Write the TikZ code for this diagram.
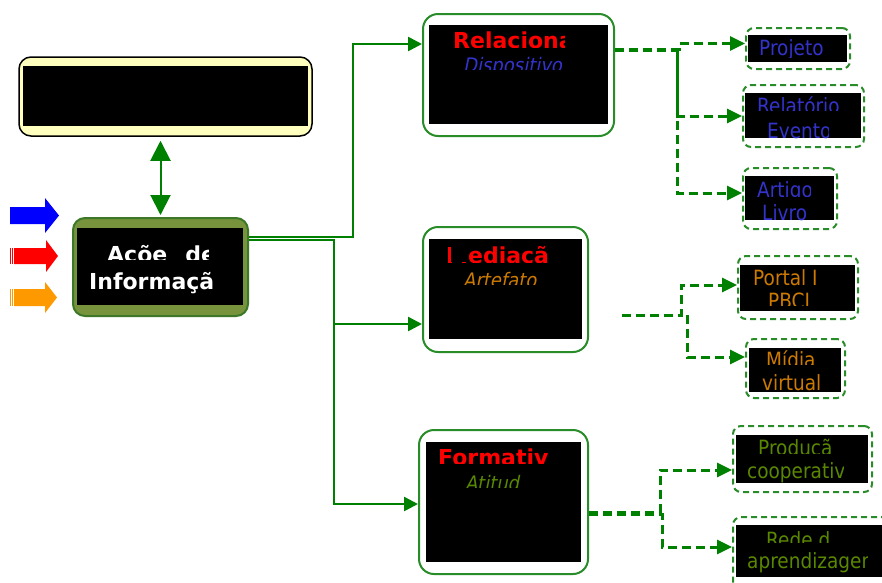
\documentclass[tikz,border=0pt]{standalone}
\usepackage{fontspec}
\setmainfont{DejaVu Sans}
\newfontfamily\nrw[FakeStretch=0.88]{DejaVu Sans}
\newfontfamily\nrwi[FakeStretch=0.9,FakeSlant=0.2]{DejaVu Sans}
\usetikzlibrary{arrows.meta,calc}
\definecolor{lgreen}{RGB}{0,128,0}
\definecolor{fgreen}{RGB}{40,140,40}
\definecolor{olivefill}{RGB}{119,147,60}
\definecolor{oliveline}{RGB}{60,120,40}
\definecolor{lyellow}{RGB}{255,255,190}
\definecolor{tblue}{RGB}{51,51,204}
\definecolor{torange}{RGB}{204,122,0}
\definecolor{tolive}{RGB}{90,135,0}
\definecolor{aorange}{RGB}{255,153,0}
\newcommand\fsz[1]{\fontsize{#1}{#1}\selectfont}
\begin{document}
\begin{tikzpicture}[x=1pt,y=-1pt,
 frame/.style={draw=fgreen,line width=2pt,rounded corners=15pt,fill=white,inner sep=0pt},
 dframe/.style={draw=fgreen,line width=2pt,rounded corners=8pt,dash pattern=on 6pt off 4pt,fill=white,inner sep=0pt},
 txt/.style={inner sep=0pt,anchor=base west},
 ttl/.style={txt,text=red,font=\bfseries\fsz{22}},
 sm/.style={txt,font=\nrw\fsz{21}},
 it/.style={txt,font=\nrwi\fsz{20}},
 conn/.style={draw=lgreen,line width=2.5pt,-{Triangle[length=14pt,width=14pt]}},
 dconn/.style={draw=lgreen,line width=3pt,dash pattern=on 9pt off 5pt,-{Triangle[length=15pt,width=14pt]}},
]
\clip (0,0) rectangle (882,582);
\fill[white] (0,0) rectangle (882,582);

% top-left yellow box
\node[draw=black,line width=1.5pt,rounded corners=12pt,fill=lyellow,inner sep=0pt,minimum width=293pt,minimum height=79pt] (yel) at (165.5,96.5) {};
\fill (23,66) rectangle (308,126);

% Acoes box
\node[draw=oliveline,line width=2pt,rounded corners=12pt,fill=olivefill,inner sep=0pt,minimum width=175pt,minimum height=98pt] (acao) at (160.5,267) {};
\fill (77,228) rectangle (243,305);
\begin{scope}\clip (77,228) rectangle (208,259);
\node[txt,text=white,font=\bfseries\fsz{22}] (a1) at (107,262) {Acõe\hspace{18pt}de};
\end{scope}
\begin{scope}\clip (77,228) rectangle (218,305);
\node[txt,text=white,font=\bfseries\fsz{22}] (a2) at (89,289) {Informaçã};
\end{scope}

% coloured arrows
\fill[blue] (10,207) -- (45,207) -- (45,198) -- (59,215.5) -- (45,233) -- (45,224) -- (10,224) -- cycle;
\fill[red] (14,248) -- (46,248) -- (46,240) -- (58,256) -- (46,272) -- (46,264) -- (14,264) -- cycle;
\fill[red] (10,248) rectangle (11,264);
\fill[red] (12,248) rectangle (13,264);
\fill[aorange] (14,289) -- (45,289) -- (45,282) -- (57,297.5) -- (45,313) -- (45,306) -- (14,306) -- cycle;
\fill[aorange] (10,289) rectangle (11,306);
\fill[aorange] (12,289) rectangle (13,306);

% Relacional
\node[frame,minimum width=191pt,minimum height=122pt] (rel) at (518.5,75) {};
\fill (429,25) rectangle (608,124);
\begin{scope}\clip (429,25) rectangle (564,47);
\node[ttl] (r1) at (453,48) {Relaciona};
\end{scope}
\begin{scope}\clip (429,47) rectangle (564,69);
\node[it,text=tblue] (r2) at (463,72.5) {Dispositivo};
\end{scope}

% Mediacao
\node[frame,minimum width=165pt,minimum height=125pt] (med) at (505.5,289.5) {};
\fill (429,239) rectangle (582,339);
\begin{scope}\clip (429,239) rectangle (552,262);
\node[ttl] (m1) at (446,263) {Mediaçã};
\fill (451,240) rectangle (467,262);
\end{scope}
\begin{scope}\clip (429,262) rectangle (537,284);
\node[it,text=torange] (m2) at (463,287.5) {Artefato};
\end{scope}

% Formativ
\node[frame,minimum width=169pt,minimum height=144pt] (form) at (503.5,502) {};
\fill (426,442) rectangle (581,562);
\begin{scope}\clip (426,442) rectangle (551,463);
\node[ttl] (f1) at (438,465) {Formativ};
\end{scope}
\begin{scope}\clip (426,463) rectangle (521,487);
\node[it,text=tolive] (f2) at (465,490.5) {Atitud};
\end{scope}

% small boxes
\node[dframe,minimum width=104pt,minimum height=41pt] (proj) at (798,48.5) {};
\fill (748,35) rectangle (847,62);
\begin{scope}\clip (748,35) rectangle (823,57);
\node[sm,text=tblue] (p1) at (759,55.5) {Projeto};
\end{scope}

\node[dframe,minimum width=121pt,minimum height=62pt] (relat) at (803.5,116) {};
\fill (745,93) rectangle (861,138);
\begin{scope}\clip (745,93) rectangle (838,110);
\node[sm,text=tblue] (e1) at (757,113) {Relatório};
\end{scope}
\begin{scope}\clip (745,110) rectangle (828,138);
\node[sm,text=tblue] (e2) at (767,138) {Evento};
\end{scope}

\node[dframe,minimum width=94pt,minimum height=61pt] (art) at (790,198.5) {};
\fill (745,176) rectangle (834,220);
\begin{scope}\clip (745,176) rectangle (810,196);
\node[sm,text=tblue] (g1) at (757,197) {Artigo};
\end{scope}
\begin{scope}\clip (745,196) rectangle (806,220);
\node[sm,text=tblue] (g2) at (762,220) {Livro};
\end{scope}

\node[dframe,minimum width=120pt,minimum height=63pt] (portal) at (798,287.5) {};
\fill (740,265) rectangle (855,311);
\begin{scope}\clip (740,265) rectangle (819,288);
\node[sm,text=torange] (o1) at (753,285) {Portal I};
\end{scope}
\begin{scope}\clip (740,288) rectangle (813,305);
\node[sm,text=torange] (o2) at (768,308) {PBCI};
\end{scope}

\node[dframe,minimum width=99pt,minimum height=59pt] (midia) at (795.5,368.5) {};
\fill (749,348) rectangle (841,392);
\begin{scope}\clip (749,348) rectangle (813,364);
\node[sm,text=torange] (v1) at (766,367) {Mídia};
\end{scope}
\begin{scope}\clip (749,364) rectangle (819,392);
\node[sm,text=torange] (v2) at (762,390) {virtual};
\end{scope}

\node[dframe,minimum width=139pt,minimum height=66pt] (prod) at (802.5,459) {};
\fill (736,435) rectangle (868,483);
\begin{scope}\clip (736,435) rectangle (838,453);
\node[sm,text=tolive] (c1) at (758,455) {Produçã};
\end{scope}
\begin{scope}\clip (736,453) rectangle (843,483);
\node[sm,text=tolive] (c2) at (747,478) {cooperativ};
\end{scope}

\node[dframe,minimum width=172pt,minimum height=83pt] (rede) at (819,558.5) {};
\fill (736,525) rectangle (882,577);
\begin{scope}\clip (736,525) rectangle (840,542);
\node[sm,text=tolive] (d1) at (766,547) {Rede d};
\end{scope}
\begin{scope}\clip (736,542) rectangle (867,577);
\node[sm,text=tolive] (d2) at (747,568) {aprendizagem};
\end{scope}

% connectors
\draw[draw=lgreen,line width=2pt,{Triangle[length=20pt,width=20pt]}-{Triangle[length=20pt,width=20pt]},shorten <=4pt,shorten >=2pt] (yel.south -| acao.north) -- (acao.north);

\coordinate (jA) at (334,240);
\coordinate (jB) at (353,237);
\draw[conn] ($(acao.east)+(0,-30)$) -- (jB) |- ($(rel.west)+(0,-31)$);
\draw[conn] ($(acao.east)+(0,-27)$) -- (jA) |- ($(med.west)+(0,34.5)$);
\draw[conn] (jA) |- ($(form.west)+(0,2)$);

\coordinate (rJ1) at (679,49);
\coordinate (rJ2) at (677,50.5);
\draw[dconn] ($(rel.east)+(0,-26)$) -- (rJ1) |- ($(proj.west)+(0,-5)$);
\draw[dconn] ($(rel.east)+(0,-24.5)$) -- (rJ2) |- (relat.west);
\draw[dconn] (rJ2) |- ($(art.west)+(0,-5.5)$);

\coordinate (mS) at (622,315);
\coordinate (mJ1) at (681,315);
\coordinate (mJ2) at (687,315);
\draw[dconn] (mS) -- (mJ1) |- ($(portal.west)+(0,-2.5)$);
\draw[dconn] (mJ2) |- ($(midia.west)+(0,-11.5)$);

\coordinate (fJ1) at (660,512);
\coordinate (fJ2) at (662,514);
\draw[dconn] ($(form.east)+(0,10)$) -- (fJ1) |- ($(prod.west)+(0,11)$);
\draw[dconn] ($(form.east)+(0,12)$) -- (fJ2) |- ($(rede.west)+(0,-11.5)$);
\end{tikzpicture}
\end{document}
